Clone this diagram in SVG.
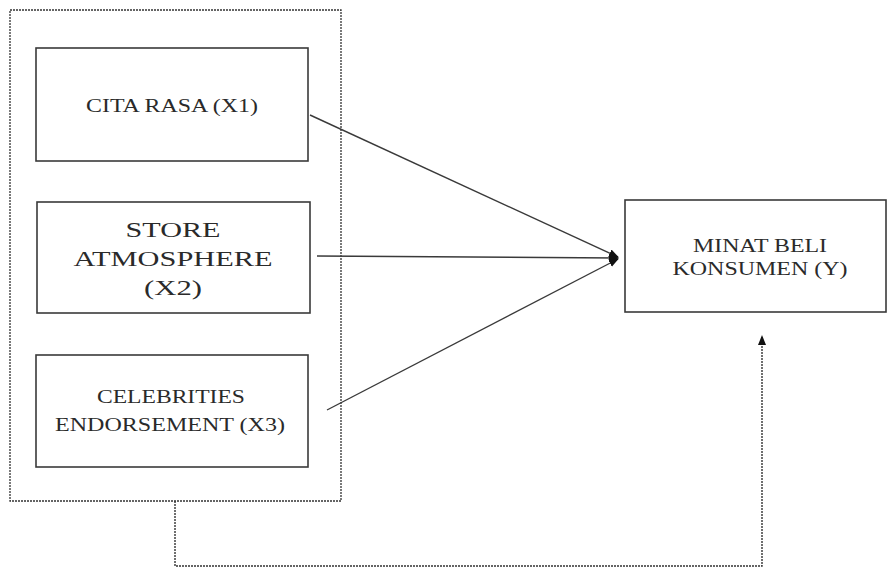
<svg xmlns="http://www.w3.org/2000/svg" width="888" height="570" viewBox="0 0 888 570">
<defs>
<style>
.box{fill:#fff;stroke:#3a3a3a;stroke-width:1.6}
.grp{fill:none;stroke:#333;stroke-width:1.3;stroke-dasharray:2 1}
.t{font-family:"Liberation Serif","Times New Roman",serif;fill:#2a2a2a;text-anchor:middle}
.line{stroke:#3a3a3a;stroke-width:1.4;fill:none}
.dot{stroke:#333;stroke-width:1.4;fill:none;stroke-dasharray:2 1}
</style>
<marker id="ah" viewBox="0 0 10 10" refX="9" refY="5" markerWidth="10" markerHeight="10" markerUnits="userSpaceOnUse" orient="auto">
<path d="M0,1 L10,5 L0,9 z" fill="#111"/>
</marker>
</defs>
<rect width="888" height="570" fill="#fff"/>
<g id="group-x">
<rect class="grp" x="10" y="10" width="331" height="491"/>
</g>
<g id="x1">
<rect class="box" x="36" y="48" width="272" height="113"/>
<text class="t" x="172" y="112" font-size="18" textLength="172" lengthAdjust="spacingAndGlyphs">CITA RASA (X1)</text>
</g>
<g id="x2">
<rect class="box" x="37" y="202" width="273" height="111"/>
<text class="t" x="173" y="237" font-size="22" textLength="95" lengthAdjust="spacingAndGlyphs">STORE</text>
<text class="t" x="173" y="266" font-size="22" textLength="199" lengthAdjust="spacingAndGlyphs">ATMOSPHERE</text>
<text class="t" x="173" y="295" font-size="22" textLength="58" lengthAdjust="spacingAndGlyphs">(X2)</text>
</g>
<g id="x3">
<rect class="box" x="36" y="355" width="272" height="112"/>
<text class="t" x="171" y="403" font-size="19" textLength="148" lengthAdjust="spacingAndGlyphs">CELEBRITIES</text>
<text class="t" x="170" y="431" font-size="19" textLength="230" lengthAdjust="spacingAndGlyphs">ENDORSEMENT (X3)</text>
</g>
<g id="y">
<rect class="box" x="625" y="200" width="261" height="112"/>
<text class="t" x="760" y="252" font-size="18" textLength="134" lengthAdjust="spacingAndGlyphs">MINAT BELI</text>
<text class="t" x="760" y="275" font-size="18" textLength="175" lengthAdjust="spacingAndGlyphs">KONSUMEN (Y)</text>
</g>
<g id="connectors">
<line class="line" x1="310" y1="115" x2="618" y2="257" marker-end="url(#ah)"/>
<line class="line" x1="317" y1="256" x2="618" y2="258" marker-end="url(#ah)"/>
<line class="line" x1="327" y1="410" x2="618" y2="259" marker-end="url(#ah)"/>
<polyline class="dot" points="175,501 175,566 762,566 762,336" marker-end="url(#ah)"/>
</g>
</svg>
